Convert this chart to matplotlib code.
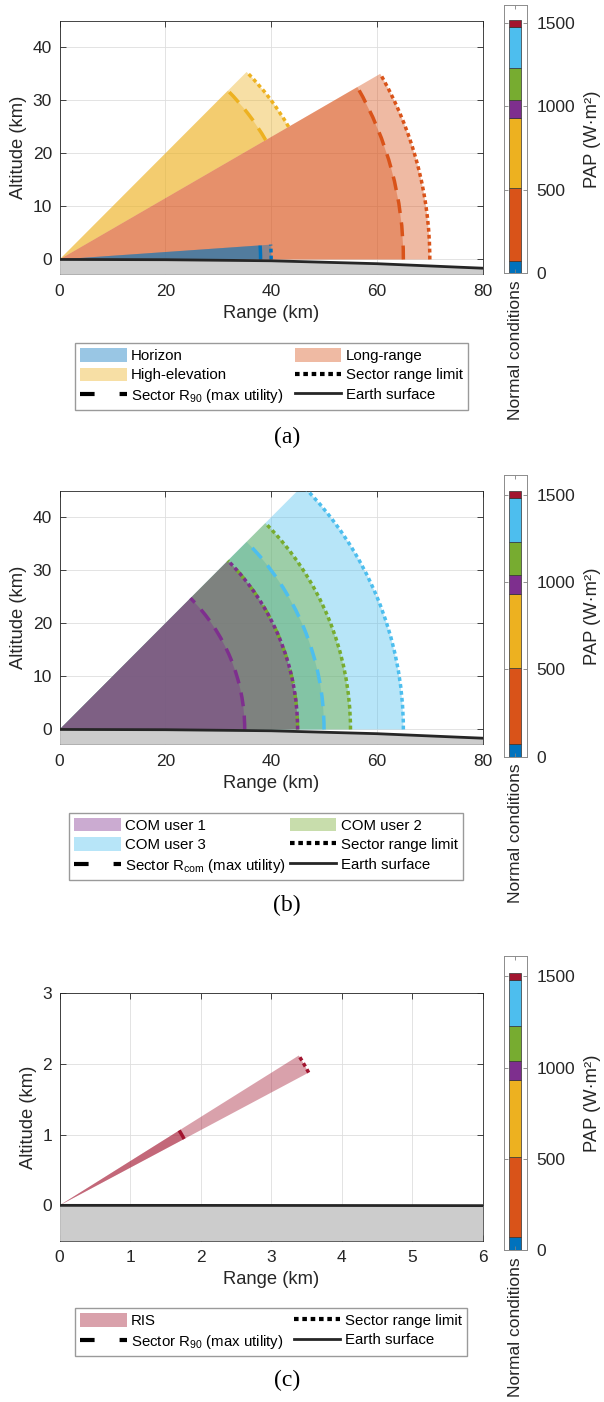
import numpy as np
import matplotlib.pyplot as plt
from matplotlib.patches import Wedge, Arc, Patch
from matplotlib.lines import Line2D

plt.rcParams['font.family'] = ['Liberation Sans', 'DejaVu Sans']
plt.rcParams['mathtext.fontset'] = 'custom'
plt.rcParams['mathtext.rm'] = 'Liberation Sans'
plt.rcParams['mathtext.it'] = 'Liberation Sans:italic'

# PAP stacked bar (same in all panels), bottom to top
pap_names = ['Horizon', 'Long-range', 'High-elevation', 'COM user 1', 'COM user 2', 'COM user 3', 'RIS']
pap_values = [70, 440, 423, 104, 192, 249, 42]
pap_colors = ['#0072BD', '#D95319', '#EDB120', '#7E2F8E', '#77AC30', '#4DBEEE', '#A2142F']

# (a) sensing sectors: elevation limits (deg), R90 and range limit (km)
sens_names = ['Horizon', 'Long-range', 'High-elevation']
sens_colors = ['#0072BD', '#D95319', '#EDB120']
sens_el_min = [0, 0, 30]
sens_el_max = [4, 30, 45]
sens_r90 = [38, 65, 45]
sens_rmax = [40, 70, 50]

# (b) communication sectors
com_names = ['COM user 1', 'COM user 2', 'COM user 3']
com_colors = ['#7E2F8E', '#77AC30', '#4DBEEE']
com_el_min = [0, 0, 0]
com_el_max = [45, 45, 45]
com_rcom = [35, 45, 50]
com_rmax = [45, 55, 65]

# (c) RIS sector
ris_names = ['RIS']
ris_colors = ['#A2142F']
ris_el_min = [28]
ris_el_max = [32]
ris_r90 = [2]
ris_rmax = [4]

# Earth surface profiles
earth_x = [0, 20, 40, 60, 80]
earth_y = [0, -0.05, -0.25, -0.8, -1.65]
earth_x_c = [0, 2, 4, 6]
earth_y_c = [0, -0.0005, -0.002, -0.004]

W, H = 604, 1402
dash_ls = (0, (4, 2.7))
dot_ls = (0, (1.1, 0.9))
axc = '#262626'


def box(l, t, r, b):
    return [l / W, 1 - b / H, (r - l) / W, (b - t) / H]


def sector(ax, e0, e1, r_in, r_out, color):
    ax.add_patch(Wedge((0, 0), r_out, e0, e1, facecolor=color, alpha=0.4, lw=0, zorder=2))
    ax.add_patch(Wedge((0, 0), r_in, e0, e1, facecolor=color, alpha=0.4, lw=0, zorder=2))


def arcs(ax, e0, e1, r_in, r_out, color):
    ax.add_patch(Arc((0, 0), 2 * r_in, 2 * r_in, theta1=e0, theta2=e1, color=color, lw=2.5,
                     linestyle=dash_ls, zorder=4))
    ax.add_patch(Arc((0, 0), 2 * r_out, 2 * r_out, theta1=e0, theta2=e1, color=color, lw=2.5,
                     linestyle=dot_ls, zorder=4))


def style(ax):
    for s in ax.spines.values():
        s.set_color(axc)
        s.set_linewidth(0.6)
    ax.tick_params(direction='in', top=True, right=True, length=4, width=0.6, color=axc,
                   labelcolor=axc, labelsize=12.5)
    ax.tick_params(axis='x', pad=7)
    ax.tick_params(axis='y', pad=5.5)
    ax.grid(True, color='#dedede', lw=0.6)
    ax.set_axisbelow(True)


def panel(pos, names, colors, e0s, e1s, rins, routs, ex, ey, xlim, ylim, xticks, yticks):
    ax = fig.add_axes(pos)
    style(ax)
    for i in reversed(range(len(names))):
        sector(ax, e0s[i], e1s[i], rins[i], routs[i], colors[i])
    for i in reversed(range(len(names))):
        arcs(ax, e0s[i], e1s[i], rins[i], routs[i], colors[i])
    ax.fill_between(ex, ey, ylim[0], color='#cccccc', lw=0, zorder=3)
    ax.plot(ex, ey, color=axc, lw=2.0, zorder=5)
    ax.set_xlim(xlim)
    ax.set_ylim(ylim)
    ax.set_xticks(xticks)
    ax.set_yticks(yticks)
    ax.set_xlabel('Range (km)', fontsize=13.2, color=axc, labelpad=4)
    ax.set_ylabel('Altitude (km)', fontsize=13.2, color=axc, labelpad=4)
    return ax


def pap_bar(pos, ytop):
    bx = fig.add_axes(pos)
    bottoms = np.concatenate([[0], np.cumsum(pap_values)[:-1]])
    bx.bar([1] * len(pap_values), pap_values, bottom=bottoms, width=0.5, color=pap_colors,
           edgecolor='#333333', lw=0.5)
    bx.set_xlim(0.5, 1.5)
    bx.set_ylim(0, ytop)
    bx.set_xticks([1])
    bx.set_xticklabels(['Normal conditions'], rotation=90, fontsize=12.5, color=axc)
    bx.set_yticks([0, 500, 1000, 1500])
    bx.yaxis.tick_right()
    bx.yaxis.set_label_position('right')
    bx.tick_params(direction='in', left=True, right=True, top=True, labelleft=False,
                   length=3, width=0.6, color='#808080', labelcolor=axc, labelsize=12.5)
    bx.tick_params(axis='y', pad=7)
    bx.tick_params(axis='x', pad=5)
    for s in bx.spines.values():
        s.set_color('#8c8c8c')
        s.set_linewidth(0.7)
    bx.set_ylabel('PAP (W·m²)', fontsize=13.2, color=axc, labelpad=6)


def legend(handles, labels, l, t, r):
    fig.legend(handles, labels, loc='upper left',
               bbox_to_anchor=(l / W, 1 - t / H - 0.1, (r - l) / W, 0.1), mode='expand',
               ncol=2, fontsize=10.8, frameon=True, fancybox=False, edgecolor='#9a9a9a',
               framealpha=1, borderpad=0.35, handlelength=3.1, handleheight=1.0,
               handletextpad=0.3, labelspacing=0.3, columnspacing=0.6, borderaxespad=0)


fig = plt.figure(figsize=(W / 100, H / 100), dpi=100)

dash_h = Line2D([], [], color='k', lw=3, linestyle=(0, (3.5, 6)))
dot_h = Line2D([], [], color='k', lw=3, linestyle=dot_ls)
earth_h = Line2D([], [], color=axc, lw=2.0)

# (a)
panel(box(59.6, 20.8, 482.7, 274.3), sens_names, sens_colors, sens_el_min, sens_el_max,
      sens_r90, sens_rmax, earth_x, earth_y, (0, 80), (-2.8, 45), [0, 20, 40, 60, 80],
      [0, 10, 20, 30, 40])
pap_bar(box(503.5, 4.5, 526.7, 273), 1612)
p = [Patch(facecolor=c, alpha=0.4, lw=0) for c in sens_colors]
legend([p[0], p[2], dash_h, p[1], dot_h, earth_h],
       ['Horizon', 'High-elevation', r'Sector $\mathregular{R_{90}}$ (max utility)',
        'Long-range', 'Sector range limit', 'Earth surface'], 75, 343, 468)
fig.text(287 / W, 1 - 437 / H, '(a)', family='Liberation Serif', fontsize=17, ha='center', va='center')

# (b)
panel(box(59.6, 490.7, 482.7, 744.3), com_names, com_colors, com_el_min, com_el_max,
      com_rcom, com_rmax, earth_x, earth_y, (0, 80), (-2.8, 45), [0, 20, 40, 60, 80],
      [0, 10, 20, 30, 40])
pap_bar(box(503.5, 475, 526.7, 756.7), 1612)
p = [Patch(facecolor=c, alpha=0.4, lw=0) for c in com_colors]
legend([p[0], p[2], dash_h, p[1], dot_h, earth_h],
       ['COM user 1', 'COM user 3', r'Sector $\mathregular{R_{com}}$ (max utility)',
        'COM user 2', 'Sector range limit', 'Earth surface'], 69, 812.7, 463)
fig.text(287 / W, 1 - 905 / H, '(b)', family='Liberation Serif', fontsize=17, ha='center', va='center')

# (c)
panel(box(59.6, 993.3, 482.7, 1240.7), ris_names, ris_colors, ris_el_min, ris_el_max,
      ris_r90, ris_rmax, earth_x_c, earth_y_c, (0, 6), (-0.5, 3), [0, 1, 2, 3, 4, 5, 6],
      [0, 1, 2, 3])
pap_bar(box(503.5, 956, 526.7, 1250), 1612)
p = [Patch(facecolor=c, alpha=0.4, lw=0) for c in ris_colors]
legend([p[0], dash_h, dot_h, earth_h],
       ['RIS', r'Sector $\mathregular{R_{90}}$ (max utility)', 'Sector range limit', 'Earth surface'],
       75, 1308, 467)
fig.text(287 / W, 1 - 1380 / H, '(c)', family='Liberation Serif', fontsize=17, ha='center', va='center')

fig.savefig('out.png', dpi=100)
